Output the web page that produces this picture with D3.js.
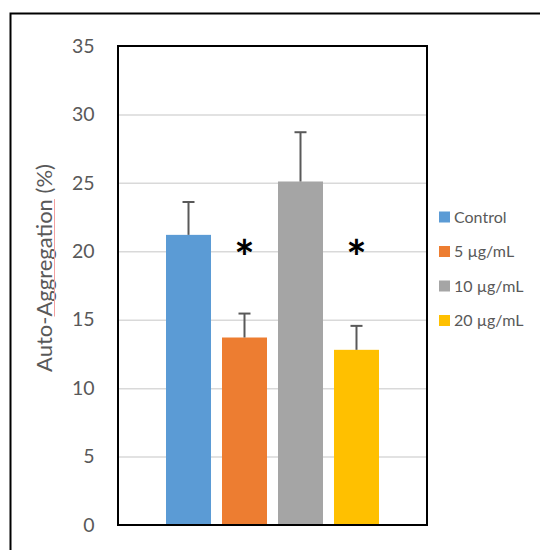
<!DOCTYPE html>
<html>
<head>
<meta charset="utf-8">
<script src="https://cdn.jsdelivr.net/npm/d3@7"></script>
<style>
  body { margin: 0; background: #fff; }
  text { font-family: Lato, "Open Sans", sans-serif; }
</style>
</head>
<body>
<svg id="chart" width="540" height="550"></svg>
<script>
// data
var series = ['Control', '5 µg/mL', '10 µg/mL', '20 µg/mL'];
var means = [21.2, 13.7, 25.1, 12.8];
var errUp = [2.4, 1.75, 3.6, 1.75];
var signif = [false, true, false, true];
var colors = ['#5b9bd5', '#ed7d31', '#a5a5a5', '#ffc000'];
var yTicks = [0, 5, 10, 15, 20, 25, 30, 35];

var svg = d3.select('#chart');
var plot = { left: 118, right: 427, top: 46, bottom: 525 };

// outer chart border (runs off the page on right and bottom)
svg.append('rect')
  .attr('x', 10.5).attr('y', 13.5)
  .attr('width', 700).attr('height', 700)
  .attr('fill', 'none').attr('stroke', '#000').attr('stroke-width', 2);

var y = d3.scaleLinear().domain([0, 35]).range([plot.bottom, plot.top]);
var x0 = d3.scaleBand().domain(['g'])
  .range([plot.left, plot.right]).paddingInner(0).paddingOuter(0.2254);
var x1 = d3.scaleBand().domain(series)
  .range([x0('g'), x0('g') + x0.bandwidth()]).paddingInner(11 / 56).paddingOuter(0);

// gridlines
var grid = svg.append('g')
  .attr('transform', 'translate(' + plot.left + ',0)')
  .call(d3.axisLeft(y).tickValues(yTicks.slice(1, -1)).tickSize(-(plot.right - plot.left)).tickFormat(''));
grid.select('.domain').remove();
grid.selectAll('line').attr('stroke', '#d9d9d9').attr('stroke-width', 1.5);

// tick labels
var ax = svg.append('g')
  .attr('transform', 'translate(' + plot.left + ',0)')
  .call(d3.axisLeft(y).tickValues(yTicks).tickSize(0).tickPadding(23.5));
ax.select('.domain').remove();
ax.selectAll('text')
  .attr('fill', '#595959')
  .style('font-size', '19.5px')
  .style('font-family', 'Lato, sans-serif');

// bars
svg.selectAll('.bar')
  .data(series)
  .enter().append('rect')
  .attr('class', 'bar')
  .attr('x', function(d) { return x1(d); })
  .attr('width', x1.bandwidth())
  .attr('y', function(d, i) { return y(means[i]); })
  .attr('height', function(d, i) { return y(0) - y(means[i]); })
  .attr('fill', function(d, i) { return colors[i]; });

// error bars (upper only)
var eb = svg.selectAll('.err')
  .data(series)
  .enter().append('g')
  .attr('class', 'err')
  .attr('stroke', '#595959')
  .attr('stroke-width', 2);
eb.append('line')
  .attr('x1', function(d) { return x1(d) + x1.bandwidth() / 2; })
  .attr('x2', function(d) { return x1(d) + x1.bandwidth() / 2; })
  .attr('y1', function(d, i) { return y(means[i]); })
  .attr('y2', function(d, i) { return y(means[i] + errUp[i]); });
eb.append('line')
  .attr('x1', function(d) { return x1(d) + x1.bandwidth() / 2 - 6; })
  .attr('x2', function(d) { return x1(d) + x1.bandwidth() / 2 + 6; })
  .attr('y1', function(d, i) { return y(means[i] + errUp[i]); })
  .attr('y2', function(d, i) { return y(means[i] + errUp[i]); });

// significance stars
svg.selectAll('.star')
  .data(series.filter(function(d, i) { return signif[i]; }))
  .enter().append('text')
  .attr('class', 'star')
  .attr('x', function(d) { return x1(d) + x1.bandwidth() / 2; })
  .attr('y', y(18.3))
  .attr('text-anchor', 'middle')
  .style('font-size', '48px')
  .style('font-weight', 'bold')
  .attr('fill', '#000')
  .text('*');

// plot frame
svg.append('rect')
  .attr('x', plot.left).attr('y', plot.top)
  .attr('width', plot.right - plot.left).attr('height', plot.bottom - plot.top)
  .attr('fill', 'none').attr('stroke', '#000').attr('stroke-width', 2);

// y axis title
var title = svg.append('text')
  .attr('transform', 'translate(52,268) rotate(-90)')
  .attr('text-anchor', 'middle')
  .attr('fill', '#595959')
  .style('font-size', '22px')
  .text('Auto-Aggregation (%)');

// spell-check squiggle under "Aggregation"
var tn = title.node();
var full = tn.getComputedTextLength();
var s0 = tn.getSubStringLength(0, 5);
var sl = tn.getSubStringLength(5, 11);
svg.append('line')
  .attr('x1', 54.5).attr('x2', 54.5)
  .attr('y1', 268 + full / 2 - s0)
  .attr('y2', 268 + full / 2 - s0 - sl)
  .attr('stroke', '#f4a0a0').attr('stroke-width', 1);

// legend
var leg = svg.selectAll('.leg')
  .data(series)
  .enter().append('g')
  .attr('class', 'leg')
  .attr('transform', function(d, i) { return 'translate(439,' + (217 + i * 34.5) + ')'; });
leg.append('rect')
  .attr('x', 0).attr('y', -5.5)
  .attr('width', 11).attr('height', 11)
  .attr('fill', function(d, i) { return colors[i]; });
leg.append('text')
  .attr('x', 15).attr('dy', '0.35em')
  .attr('fill', '#595959')
  .style('font-size', '16px')
  .text(function(d) { return d; });
</script>
</body>
</html>
